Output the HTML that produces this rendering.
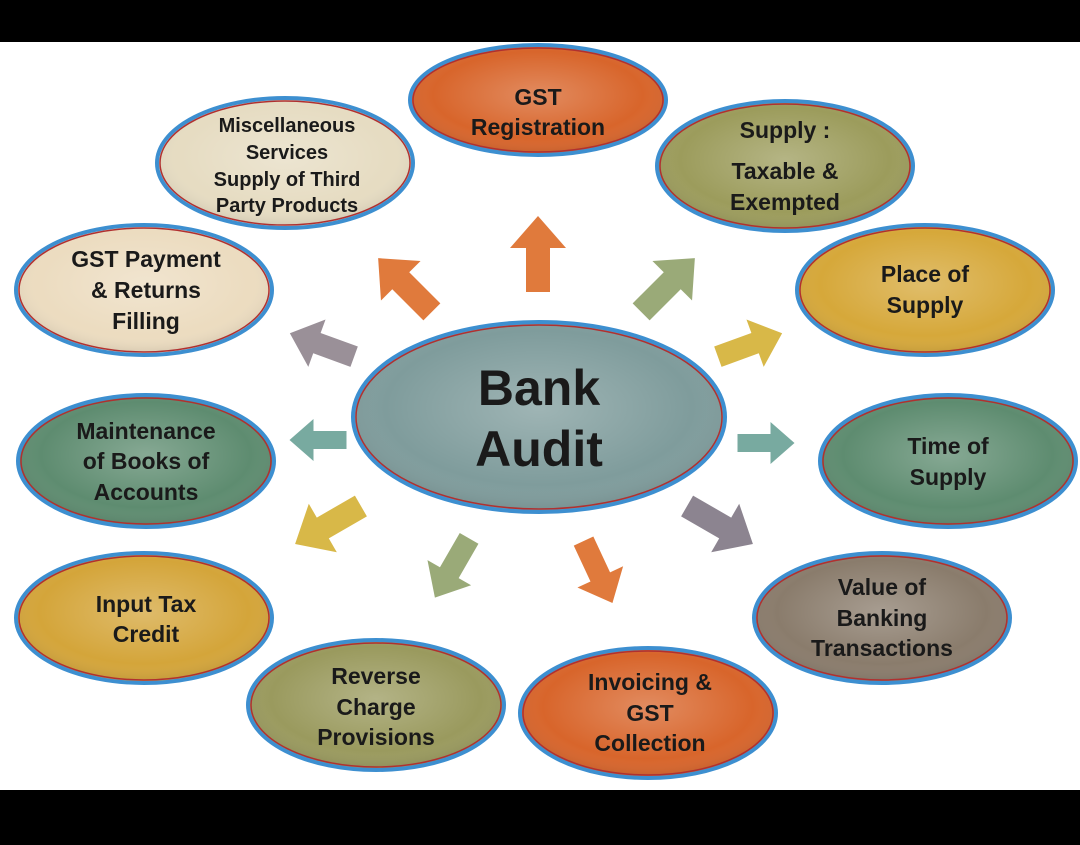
<!DOCTYPE html>
<html><head><meta charset="utf-8"><style>
html,body{margin:0;padding:0;background:#000;}
svg{display:block;}
text{font-family:"Liberation Sans",sans-serif;font-weight:bold;fill:#1a1a1a;text-anchor:middle;}
</style></head><body>
<svg width="1080" height="845" viewBox="0 0 1080 845" xmlns="http://www.w3.org/2000/svg">
<defs>
<radialGradient id="sh" cx="50%" cy="45%" r="60%">
<stop offset="0" stop-color="#fff" stop-opacity="0.25"/>
<stop offset="0.7" stop-color="#fff" stop-opacity="0"/>
<stop offset="1" stop-color="#000" stop-opacity="0.15"/>
</radialGradient>
<polygon id="ar" points="0,-38 28,-6 12,-6 12,38 -12,38 -12,-6 -28,-6"/>
</defs>
<rect x="0" y="0" width="1080" height="845" fill="#000"/>
<rect x="0" y="42" width="1080" height="748" fill="#fff"/>

<g stroke-width="4">
<g stroke="#3d8fd0">
<ellipse cx="538" cy="100" rx="128" ry="55" fill="#d8652b"/>
<ellipse cx="285" cy="163" rx="128" ry="65" fill="#e6dcc2"/>
<ellipse cx="785" cy="166" rx="128" ry="65" fill="#9c9c5c"/>
<ellipse cx="144" cy="290" rx="128" ry="65" fill="#ecdcc0"/>
<ellipse cx="925" cy="290" rx="128" ry="65" fill="#d6a83a"/>
<ellipse cx="539" cy="417" rx="186" ry="95" fill="#7f9c9c"/>
<ellipse cx="146" cy="461" rx="128" ry="66" fill="#5e8c70"/>
<ellipse cx="948" cy="461" rx="128" ry="66" fill="#5e8c70"/>
<ellipse cx="144" cy="618" rx="128" ry="65" fill="#d4a53a"/>
<ellipse cx="882" cy="618" rx="128" ry="65" fill="#8a7c6c"/>
<ellipse cx="376" cy="705" rx="128" ry="65" fill="#9a9a5e"/>
<ellipse cx="648" cy="713" rx="128" ry="65" fill="#d8652b"/>
</g>
</g>
<g fill="url(#sh)" stroke="#b03030" stroke-width="1.5">
<ellipse cx="538" cy="100" rx="125" ry="52"/>
<ellipse cx="285" cy="163" rx="125" ry="62"/>
<ellipse cx="785" cy="166" rx="125" ry="62"/>
<ellipse cx="144" cy="290" rx="125" ry="62"/>
<ellipse cx="925" cy="290" rx="125" ry="62"/>
<ellipse cx="539" cy="417" rx="183" ry="92"/>
<ellipse cx="146" cy="461" rx="125" ry="63"/>
<ellipse cx="948" cy="461" rx="125" ry="63"/>
<ellipse cx="144" cy="618" rx="125" ry="62"/>
<ellipse cx="882" cy="618" rx="125" ry="62"/>
<ellipse cx="376" cy="705" rx="125" ry="62"/>
<ellipse cx="648" cy="713" rx="125" ry="62"/>
</g>

<use href="#ar" fill="#e07a3c" transform="translate(538,254)"/>
<use href="#ar" fill="#e07a3c" transform="translate(405,285) rotate(-45)"/>
<use href="#ar" fill="#9aaa78" transform="translate(668,285) rotate(45)"/>
<use href="#ar" fill="#9a9098" transform="translate(322,345) rotate(-70) scale(0.9)"/>
<use href="#ar" fill="#d8b848" transform="translate(750,345) rotate(70) scale(0.9)"/>
<use href="#ar" fill="#78aaa0" transform="translate(318,440) rotate(-90) scale(0.75)"/>
<use href="#ar" fill="#78aaa0" transform="translate(766,443) rotate(90) scale(0.75)"/>
<use href="#ar" fill="#d8b848" transform="translate(328,525) rotate(-120)"/>
<use href="#ar" fill="#8c8490" transform="translate(720,525) rotate(120)"/>
<use href="#ar" fill="#9aaa78" transform="translate(452,568) rotate(-150) scale(0.9)"/>
<use href="#ar" fill="#e07a3c" transform="translate(598,572) rotate(155) scale(0.9)"/>

<g font-size="23">
<text x="538" y="105">GST</text><text x="538" y="135">Registration</text>
</g>
<g font-size="20">
<text x="287" y="132">Miscellaneous</text><text x="287" y="159">Services</text><text x="287" y="186">Supply of Third</text><text x="287" y="212">Party Products</text>
</g>
<g font-size="23">
<text x="785" y="138">Supply :</text><text x="785" y="179">Taxable &amp;</text><text x="785" y="210">Exempted</text>
<text x="146" y="267">GST Payment</text><text x="146" y="298">&amp; Returns</text><text x="146" y="329">Filling</text>
<text x="925" y="282">Place of</text><text x="925" y="313">Supply</text>
<text x="146" y="439">Maintenance</text><text x="146" y="469">of Books of</text><text x="146" y="500">Accounts</text>
<text x="948" y="454">Time of</text><text x="948" y="485">Supply</text>
<text x="146" y="612">Input Tax</text><text x="146" y="642">Credit</text>
<text x="882" y="595">Value of</text><text x="882" y="626">Banking</text><text x="882" y="656">Transactions</text>
<text x="376" y="684">Reverse</text><text x="376" y="715">Charge</text><text x="376" y="745">Provisions</text>
<text x="650" y="690">Invoicing &amp;</text><text x="650" y="721">GST</text><text x="650" y="751">Collection</text>
</g>
<g font-size="50">
<text x="539" y="405">Bank</text><text x="539" y="466">Audit</text>
</g>
</svg>
</body></html>
